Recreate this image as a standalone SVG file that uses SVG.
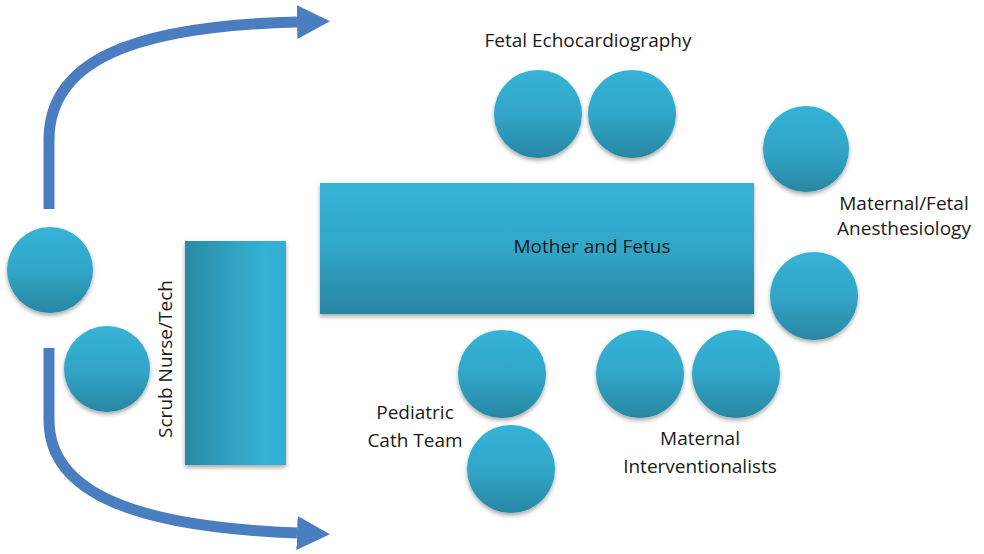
<svg xmlns="http://www.w3.org/2000/svg" width="984" height="554" viewBox="0 0 984 554">
<defs>
  <linearGradient id="gV" x1="0" y1="0" x2="0" y2="1">
    <stop offset="0" stop-color="#35B3D7"/>
    <stop offset="0.5" stop-color="#31A6C8"/>
    <stop offset="1" stop-color="#2886A2"/>
  </linearGradient>
  <linearGradient id="gH" x1="0" y1="0" x2="1" y2="0">
    <stop offset="0" stop-color="#2A8AA5"/>
    <stop offset="0.8" stop-color="#34B2D6"/>
    <stop offset="1" stop-color="#32AED1"/>
  </linearGradient>
  <filter id="sh" x="-20%" y="-20%" width="140%" height="150%">
    <feDropShadow dx="0" dy="2.5" stdDeviation="2" flood-color="#000" flood-opacity="0.35"/>
  </filter>
  <marker id="ah" markerUnits="userSpaceOnUse" markerWidth="34" markerHeight="36" refX="0" refY="17" orient="auto">
    <path d="M0,0 L33,17 L0,34 Z" fill="#4A7EC1"/>
  </marker>
  <style>
    .c{fill:url(#gV);filter:url(#sh)}
    .t{font-family:"Open Sans",Lato,sans-serif;font-size:19px;fill:#1a1a1a}
    .a{fill:none;stroke:#4A7EC1;stroke-width:11}
  </style>
</defs>
<rect width="984" height="554" fill="#fff"/>
<g id="connectors">
  <path class="a" d="M49,209 L49,140 C49,62 130,26 297,22" marker-end="url(#ah)"/>
  <path class="a" d="M49,348 L49,420 C49,495 140,527 297,533" marker-end="url(#ah)"/>
</g>
<g id="mother-fetus">
  <rect x="320" y="183" width="434" height="131" fill="url(#gV)" filter="url(#sh)"/>
  <text class="t" x="592" y="253" text-anchor="middle">Mother and Fetus</text>
</g>
<g id="scrub-table">
  <rect x="185" y="241" width="101" height="224" fill="url(#gH)" filter="url(#sh)"/>
  <text class="t" transform="translate(172,359) rotate(-90)" text-anchor="middle">Scrub Nurse/Tech</text>
</g>
<g id="left-person-1"><circle class="c" cx="50" cy="270" r="43"/></g>
<g id="scrub-nurse"><circle class="c" cx="107" cy="369" r="43"/></g>
<g id="fetal-echo">
  <circle class="c" cx="538" cy="114" r="44"/>
  <circle class="c" cx="632" cy="114" r="44"/>
  <text class="t" x="588" y="47" text-anchor="middle">Fetal Echocardiography</text>
</g>
<g id="anesthesiology">
  <circle class="c" cx="806" cy="149" r="43"/>
  <circle class="c" cx="814" cy="296" r="44"/>
  <text class="t" x="904" y="210" text-anchor="middle">Maternal/Fetal</text>
  <text class="t" x="904" y="235" text-anchor="middle">Anesthesiology</text>
</g>
<g id="pediatric-cath">
  <circle class="c" cx="502" cy="374" r="44"/>
  <circle class="c" cx="511" cy="469" r="44"/>
  <text class="t" x="415" y="419" text-anchor="middle">Pediatric</text>
  <text class="t" x="415" y="447" text-anchor="middle">Cath Team</text>
</g>
<g id="maternal-interventionalists">
  <circle class="c" cx="640" cy="374" r="44"/>
  <circle class="c" cx="736" cy="374" r="44"/>
  <text class="t" x="700" y="445" text-anchor="middle">Maternal</text>
  <text class="t" x="700" y="473" text-anchor="middle">Interventionalists</text>
</g>
</svg>
